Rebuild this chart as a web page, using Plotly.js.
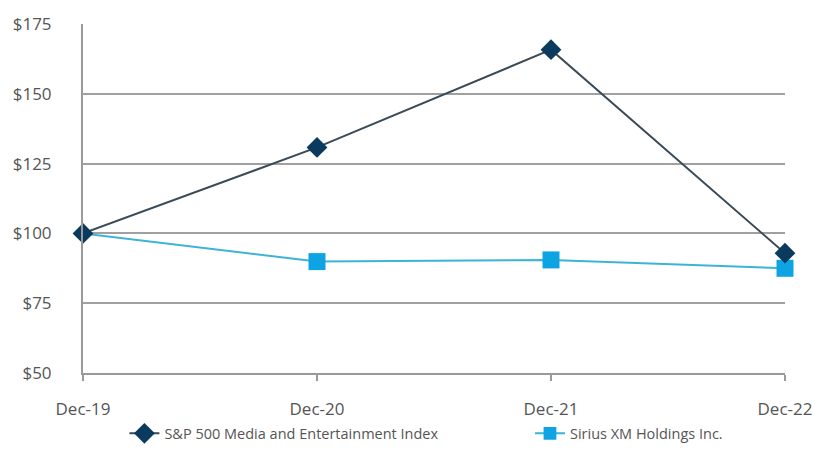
<!DOCTYPE html>
<html>
<head>
<meta charset="utf-8">
<script src="https://cdn.plot.ly/plotly-3.0.1.min.js"></script>
<style>html,body{margin:0;padding:0;background:#fff;}#chart{width:813px;height:470px;}</style>
</head>
<body>
<div id="chart"></div>
<script>
var categories = ["Dec-19", "Dec-20", "Dec-21", "Dec-22"];
var spMedia = [100, 130.8, 165.8, 92.9];
var siriusXM = [100, 89.9, 90.5, 87.5];
var yTickVals = [50, 75, 100, 125, 150, 175];
var yTickText = ["$50", "$75", "$100", "$125", "$150", "$175"];
var seriesNames = ["S&P 500 Media and Entertainment Index", "Sirius XM Holdings Inc."];

var traces = [
  {
    x: categories, y: siriusXM, name: seriesNames[1], type: "scatter", mode: "lines+markers",
    line: {color: "#3db3d6", width: 2},
    marker: {symbol: "square", size: [0, 17, 17, 17], color: "#0ea4e4", opacity: 1, line: {width: 0}},
    cliponaxis: false, showlegend: true, legend: "legend2"
  },
  {
    x: categories, y: spMedia, name: seriesNames[0], type: "scatter", mode: "lines+markers",
    line: {color: "#3a4a56", width: 2},
    marker: {symbol: "diamond", size: 16, color: "#0a3a5e", opacity: 1, line: {width: 0}},
    cliponaxis: false, showlegend: true, legend: "legend"
  }
];

var legendFont = {size: 14.5, color: "#555"};
var layout = {
  width: 813, height: 470,
  margin: {l: 83, r: 28, t: 23.5, b: 96.5},
  paper_bgcolor: "#fff", plot_bgcolor: "#fff",
  font: {family: "Open Sans, sans-serif", color: "#555", size: 17},
  showlegend: true,
  legend: {
    orientation: "h", x: 0.059, xanchor: "left", y: -0.173, yanchor: "middle",
    font: legendFont, bgcolor: "rgba(0,0,0,0)"
  },
  legend2: {
    orientation: "h", x: 0.6367, xanchor: "left", y: -0.173, yanchor: "middle",
    font: legendFont, bgcolor: "rgba(0,0,0,0)"
  },
  xaxis: {
    type: "category", range: [0, 3], showgrid: false, zeroline: false,
    showline: true, linecolor: "#9a9a9a", linewidth: 2,
    ticks: "outside", ticklen: 6, tickcolor: "#9a9a9a", tickwidth: 1.5,
    ticklabelstandoff: 14, tickfont: {size: 17, color: "#555"}
  },
  yaxis: {
    range: [50, 175], tickvals: yTickVals, ticktext: yTickText,
    showgrid: true, gridcolor: "#a0a0a0", gridwidth: 2, zeroline: false,
    showline: true, linecolor: "#9a9a9a", linewidth: 2,
    ticks: "", ticklabelstandoff: 26, tickfont: {size: 17, color: "#555"}
  }
};

Plotly.newPlot("chart", traces, layout, {displayModeBar: false, staticPlot: true});
</script>
</body>
</html>
